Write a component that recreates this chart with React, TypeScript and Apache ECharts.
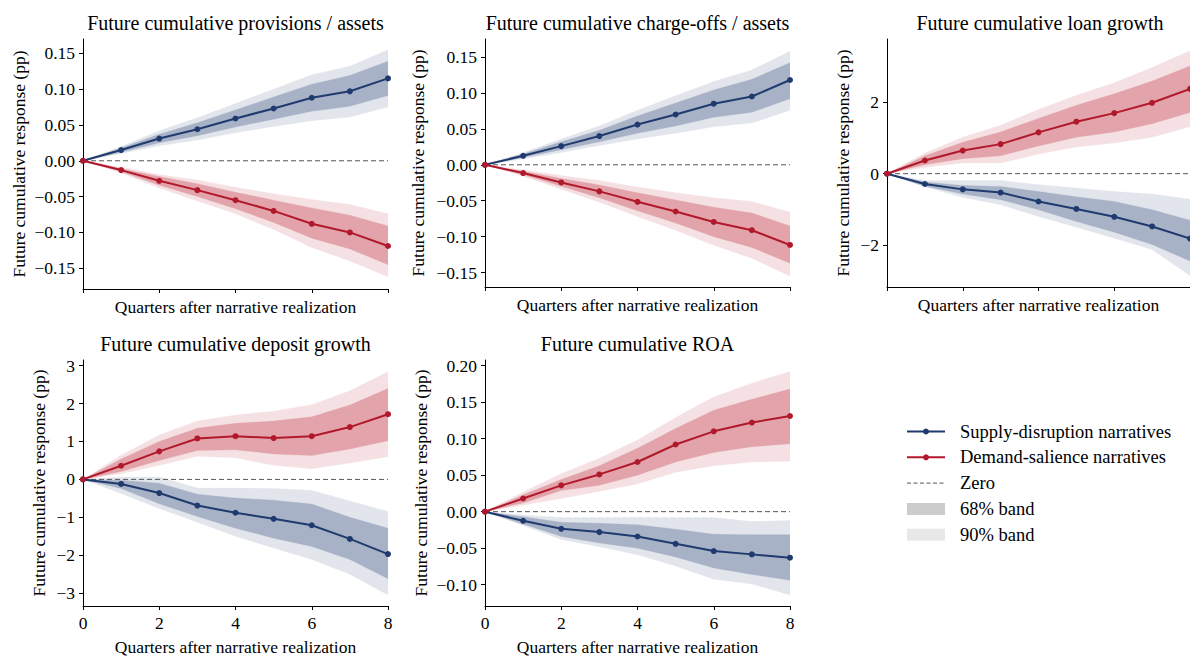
import React, { useEffect, useRef } from "react";
import * as echarts from "echarts";

// ---------- data ----------
const quarters = [0, 1, 2, 3, 4, 5, 6, 7, 8];

// Panel 1: provisions / assets
const provSupplyMean = [0, 0.015, 0.031, 0.044, 0.059, 0.073, 0.088, 0.097, 0.115];
const provSupplyLo68 = [0, 0.012, 0.025, 0.035, 0.047, 0.058, 0.069, 0.076, 0.091];
const provSupplyHi68 = [0, 0.018, 0.037, 0.053, 0.071, 0.089, 0.107, 0.119, 0.139];
const provSupplyLo90 = [0, 0.010, 0.021, 0.029, 0.039, 0.048, 0.056, 0.061, 0.075];
const provSupplyHi90 = [0, 0.020, 0.042, 0.060, 0.080, 0.100, 0.120, 0.132, 0.155];
const provDemandMean = [0, -0.013, -0.028, -0.041, -0.055, -0.070, -0.088, -0.100, -0.119];
const provDemandLo68 = [0, -0.015, -0.034, -0.050, -0.067, -0.086, -0.108, -0.123, -0.145];
const provDemandHi68 = [0, -0.011, -0.022, -0.032, -0.044, -0.055, -0.066, -0.076, -0.091];
const provDemandLo90 = [0, -0.017, -0.038, -0.056, -0.074, -0.096, -0.121, -0.140, -0.162];
const provDemandHi90 = [0, -0.009, -0.019, -0.027, -0.037, -0.046, -0.054, -0.061, -0.074];

// Panel 2: charge-offs / assets
const coSupplyMean = [0, 0.0125, 0.026, 0.040, 0.056, 0.070, 0.085, 0.095, 0.118];
const coSupplyLo68 = [0, 0.010, 0.021, 0.032, 0.044, 0.054, 0.066, 0.073, 0.092];
const coSupplyHi68 = [0, 0.015, 0.032, 0.048, 0.068, 0.086, 0.104, 0.119, 0.142];
const coSupplyLo90 = [0, 0.008, 0.017, 0.027, 0.036, 0.044, 0.053, 0.058, 0.076];
const coSupplyHi90 = [0, 0.017, 0.036, 0.054, 0.076, 0.096, 0.116, 0.132, 0.158];
const coDemandMean = [0, -0.0115, -0.0245, -0.037, -0.0515, -0.065, -0.0795, -0.091, -0.1115];
const coDemandLo68 = [0, -0.014, -0.030, -0.046, -0.064, -0.081, -0.100, -0.115, -0.137];
const coDemandHi68 = [0, -0.009, -0.019, -0.028, -0.039, -0.049, -0.059, -0.067, -0.085];
const coDemandLo90 = [0, -0.016, -0.034, -0.052, -0.072, -0.091, -0.112, -0.130, -0.155];
const coDemandHi90 = [0, -0.007, -0.015, -0.022, -0.031, -0.039, -0.046, -0.051, -0.066];

// Panel 3: loan growth
const loanSupplyMean = [0, -0.29, -0.44, -0.53, -0.78, -0.99, -1.21, -1.48, -1.82];
const loanSupplyLo68 = [0, -0.35, -0.57, -0.73, -1.01, -1.34, -1.64, -1.99, -2.45];
const loanSupplyHi68 = [0, -0.23, -0.33, -0.36, -0.50, -0.65, -0.78, -1.01, -1.31];
const loanSupplyLo90 = [0, -0.37, -0.66, -0.87, -1.20, -1.50, -1.81, -2.13, -2.86];
const loanSupplyHi90 = [0, -0.19, -0.19, -0.19, -0.31, -0.40, -0.50, -0.57, -0.72];
const loanDemandMean = [0, 0.37, 0.65, 0.83, 1.16, 1.46, 1.70, 1.99, 2.38];
const loanDemandLo68 = [0, 0.25, 0.42, 0.50, 0.78, 1.02, 1.17, 1.40, 1.72];
const loanDemandHi68 = [0, 0.50, 0.88, 1.17, 1.55, 1.92, 2.24, 2.60, 3.02];
const loanDemandLo90 = [0, 0.18, 0.30, 0.30, 0.55, 0.75, 0.86, 1.02, 1.32];
const loanDemandHi90 = [0, 0.58, 1.02, 1.36, 1.80, 2.20, 2.55, 2.98, 3.45];

// Panel 4: deposit growth
const depSupplyMean = [0, -0.12, -0.36, -0.69, -0.88, -1.04, -1.21, -1.57, -1.97];
const depSupplyLo68 = [0, -0.24, -0.64, -0.98, -1.29, -1.55, -1.77, -2.11, -2.62];
const depSupplyHi68 = [0, -0.02, -0.10, -0.39, -0.49, -0.55, -0.65, -1.00, -1.29];
const depSupplyLo90 = [0, -0.37, -0.77, -1.13, -1.50, -1.81, -2.11, -2.50, -3.05];
const depSupplyHi90 = [0, 0.06, 0.06, -0.23, -0.23, -0.24, -0.29, -0.57, -0.85];
const depDemandMean = [0, 0.36, 0.74, 1.08, 1.14, 1.09, 1.14, 1.38, 1.72];
const depDemandLo68 = [0, 0.21, 0.50, 0.76, 0.78, 0.67, 0.63, 0.80, 1.02];
const depDemandHi68 = [0, 0.54, 1.00, 1.35, 1.48, 1.54, 1.65, 1.96, 2.40];
const depDemandLo90 = [0, 0.15, 0.37, 0.61, 0.57, 0.37, 0.28, 0.43, 0.60];
const depDemandHi90 = [0, 0.64, 1.17, 1.54, 1.70, 1.80, 1.97, 2.34, 2.84];

// Panel 5: ROA
const roaSupplyMean = [0, -0.0125, -0.0235, -0.028, -0.034, -0.044, -0.054, -0.0585, -0.063];
const roaSupplyLo68 = [0, -0.017, -0.034, -0.043, -0.050, -0.062, -0.077, -0.086, -0.094];
const roaSupplyHi68 = [0, -0.007, -0.0145, -0.016, -0.018, -0.024, -0.031, -0.0315, -0.0315];
const roaSupplyLo90 = [0, -0.019, -0.038, -0.048, -0.059, -0.0745, -0.0925, -0.099, -0.114];
const roaSupplyHi90 = [0, -0.0045, -0.008, -0.008, -0.0075, -0.008, -0.008, -0.0135, -0.012];
const roaDemandMean = [0, 0.018, 0.036, 0.051, 0.068, 0.092, 0.110, 0.122, 0.131];
const roaDemandLo68 = [0, 0.012, 0.029, 0.036, 0.050, 0.068, 0.081, 0.089, 0.093];
const roaDemandHi68 = [0, 0.023, 0.044, 0.063, 0.087, 0.114, 0.139, 0.154, 0.168];
const roaDemandLo90 = [0, 0.009, 0.018, 0.028, 0.038, 0.054, 0.063, 0.068, 0.069];
const roaDemandHi90 = [0, 0.027, 0.052, 0.073, 0.098, 0.129, 0.157, 0.176, 0.192];

const ticksSmall = [-0.15, -0.1, -0.05, 0, 0.05, 0.1, 0.15];
const ticksLoan = [-2, 0, 2];
const ticksDeposit = [-3, -2, -1, 0, 1, 2, 3];
const ticksRoa = [-0.1, -0.05, 0, 0.05, 0.1, 0.15, 0.2];

const titles = [
  "Future cumulative provisions / assets",
  "Future cumulative charge-offs / assets",
  "Future cumulative loan growth",
  "Future cumulative deposit growth",
  "Future cumulative ROA",
];
const legendLabels = [
  "Supply-disruption narratives",
  "Demand-salience narratives",
  "Zero",
  "68% band",
  "90% band",
];
const xName = "Quarters after narrative realization";
const yName = "Future cumulative response (pp)";

// ---------- styles ----------
const FONT = "'Liberation Serif', 'Times New Roman', serif";
const BLUE = "#1f3a6e";
const RED = "#b2182b";
const BLUE68 = "#a8b2c6";
const BLUE90 = "#e2e5ec";
const RED68 = "#e2a4aa";
const RED90 = "#f5e1e3";

type Panel = {
  grid: { left: number; top: number; width: number; height: number };
  min: number;
  max: number;
  ticks: number[];
  dec: number;
  bottom: boolean;
  yGap: number;
  s: number[][];
  d: number[][];
};

const panels: Panel[] = [
  {
    grid: { left: 83, top: 39, width: 305, height: 250 },
    min: -0.179, max: 0.170, ticks: ticksSmall, dec: 2, bottom: false, yGap: 55,
    s: [provSupplyMean, provSupplyLo68, provSupplyHi68, provSupplyLo90, provSupplyHi90],
    d: [provDemandMean, provDemandLo68, provDemandHi68, provDemandLo90, provDemandHi90],
  },
  {
    grid: { left: 485, top: 39, width: 305, height: 248 },
    min: -0.170, max: 0.175, ticks: ticksSmall, dec: 2, bottom: false, yGap: 58,
    s: [coSupplyMean, coSupplyLo68, coSupplyHi68, coSupplyLo90, coSupplyHi90],
    d: [coDemandMean, coDemandLo68, coDemandHi68, coDemandLo90, coDemandHi90],
  },
  {
    grid: { left: 887, top: 39, width: 306, height: 248 },
    min: -3.18, max: 3.78, ticks: ticksLoan, dec: 0, bottom: false, yGap: 35,
    s: [loanSupplyMean, loanSupplyLo68, loanSupplyHi68, loanSupplyLo90, loanSupplyHi90],
    d: [loanDemandMean, loanDemandLo68, loanDemandHi68, loanDemandLo90, loanDemandHi90],
  },
  {
    grid: { left: 83, top: 360, width: 305, height: 249 },
    min: -3.34, max: 3.15, ticks: ticksDeposit, dec: 0, bottom: true, yGap: 35,
    s: [depSupplyMean, depSupplyLo68, depSupplyHi68, depSupplyLo90, depSupplyHi90],
    d: [depDemandMean, depDemandLo68, depDemandHi68, depDemandLo90, depDemandHi90],
  },
  {
    grid: { left: 485, top: 360, width: 305, height: 249 },
    min: -0.1292, max: 0.2077, ticks: ticksRoa, dec: 2, bottom: true, yGap: 55,
    s: [roaSupplyMean, roaSupplyLo68, roaSupplyHi68, roaSupplyLo90, roaSupplyHi90],
    d: [roaDemandMean, roaDemandLo68, roaDemandHi68, roaDemandLo90, roaDemandHi90],
  },
];

function fmt(v: number, dec: number) {
  const a = Math.abs(v).toFixed(dec);
  return (v < -1e-9 ? "\u2212" : "") + a;
}

// Confidence band: one polygon drawn through the axis scales (api.coord)
function band(idx: number, lo: number[], hi: number[], color: string) {
  return {
    type: "custom",
    xAxisIndex: idx,
    yAxisIndex: idx,
    silent: true,
    z: 1,
    clip: true,
    data: quarters.map((q, i) => [q, lo[i], hi[i]]),
    encode: { x: 0, y: [1, 2] },
    renderItem: (params: any, api: any) => {
      if (params.dataIndex !== 0) return null;
      const upper = quarters.map((q, i) => api.coord([q, hi[i]]));
      const lower = quarters.map((q, i) => api.coord([q, lo[i]])).reverse();
      return {
        type: "polygon",
        shape: { points: upper.concat(lower) },
        style: { fill: color, stroke: color, lineWidth: 0.3 },
      };
    },
  };
}

function meanLine(idx: number, name: string, vals: number[], color: string) {
  return {
    type: "line",
    name,
    xAxisIndex: idx,
    yAxisIndex: idx,
    data: quarters.map((q, i) => [q, vals[i]]),
    symbol: "circle",
    symbolSize: 6,
    z: 5,
    lineStyle: { color, width: 2 },
    itemStyle: { color },
  };
}

export default function App() {
  const ref = useRef<HTMLDivElement>(null);
  useEffect(() => {
    if (!ref.current) return;
    const chart = echarts.init(ref.current, undefined, { renderer: "svg" });

    const grids: any[] = [];
    const xAxes: any[] = [];
    const yAxes: any[] = [];
    const series: any[] = [];
    const title: any[] = [];

    panels.forEach((p, i) => {
      grids.push({ ...p.grid, containLabel: false });
      title.push({
        text: titles[i],
        left: p.grid.left + p.grid.width / 2,
        top: p.grid.top - 26,
        textAlign: "center",
        padding: 0,
        textStyle: { fontFamily: FONT, fontSize: 20, fontWeight: "normal", color: "#000" },
      });
      xAxes.push({
        gridIndex: i,
        type: "value",
        min: 0,
        max: 8,
        interval: 2,
        axisLine: { onZero: false, lineStyle: { color: "#000", width: 1 } },
        axisTick: { show: true, length: 4, lineStyle: { color: "#000" } },
        axisLabel: {
          show: p.bottom,
          fontFamily: FONT,
          fontSize: 17.5,
          color: "#000",
          margin: 8,
        },
        splitLine: { show: false },
        name: xName,
        nameLocation: "middle",
        nameGap: p.bottom ? 32 : 9,
        nameTextStyle: { fontFamily: FONT, fontSize: 17.5, color: "#000" },
      });
      yAxes.push({
        gridIndex: i,
        type: "value",
        min: p.min,
        max: p.max,
        axisLine: { show: true, lineStyle: { color: "#000", width: 1 } },
        axisTick: { show: true, length: 4, customValues: p.ticks, lineStyle: { color: "#000" } },
        axisLabel: {
          customValues: p.ticks,
          formatter: (v: number) => fmt(v, p.dec),
          fontFamily: FONT,
          fontSize: 17.5,
          color: "#000",
          margin: 8,
        },
        splitLine: { show: false },
        name: yName,
        nameLocation: "middle",
        nameRotate: 90,
        nameGap: p.yGap,
        nameTextStyle: { fontFamily: FONT, fontSize: 17.5, color: "#000" },
      });

      series.push(band(i, p.s[3], p.s[4], BLUE90));
      series.push(band(i, p.d[3], p.d[4], RED90));
      series.push(band(i, p.s[1], p.s[2], BLUE68));
      series.push(band(i, p.d[1], p.d[2], RED68));
      series.push({
        type: "line",
        name: legendLabels[2],
        xAxisIndex: i,
        yAxisIndex: i,
        data: [
          [quarters[0], 0],
          [quarters[quarters.length - 1], 0],
        ],
        symbol: "none",
        z: 3,
        silent: true,
        lineStyle: { color: "#555", width: 1, type: [5, 3] },
      });
      series.push(meanLine(i, legendLabels[0], p.s[0], BLUE));
      series.push(meanLine(i, legendLabels[1], p.d[0], RED));
    });

    // Legend drawn with graphic elements
    const lx = 907;
    const lw = 38;
    const ly0 = 431.5;
    const dy = 25.8;
    const graphic: any[] = [];
    const handleColors = [BLUE, RED];
    legendLabels.forEach((lab, k) => {
      const y = ly0 + k * dy;
      if (k < 2) {
        graphic.push({
          type: "line",
          shape: { x1: lx, y1: y, x2: lx + lw, y2: y },
          style: { stroke: handleColors[k], lineWidth: 2 },
        });
        graphic.push({
          type: "circle",
          shape: { cx: lx + lw / 2, cy: y, r: 3 },
          style: { fill: handleColors[k] },
        });
      } else if (k === 2) {
        graphic.push({
          type: "line",
          shape: { x1: lx, y1: y, x2: lx + lw, y2: y },
          style: { stroke: "#555", lineWidth: 1, lineDash: [4, 2.5] },
        });
      } else {
        graphic.push({
          type: "rect",
          shape: { x: lx, y: y - 6, width: lw, height: 12 },
          style: { fill: k === 3 ? "#cccccc" : "#e8e8e8" },
        });
      }
      graphic.push({
        type: "text",
        x: 960,
        y,
        style: {
          text: lab,
          fontFamily: FONT,
          fontSize: 18.5,
          fill: "#000",
          verticalAlign: "middle",
          align: "left",
        },
      });
    });

    chart.setOption({
      animation: false,
      backgroundColor: "#fff",
      title,
      grid: grids,
      xAxis: xAxes,
      yAxis: yAxes,
      series,
      graphic,
    });
    return () => chart.dispose();
  }, []);

  return (
    <div
      ref={ref}
      style={{ position: "absolute", left: 0, top: 0, width: 1190, height: 657 }}
    />
  );
}
